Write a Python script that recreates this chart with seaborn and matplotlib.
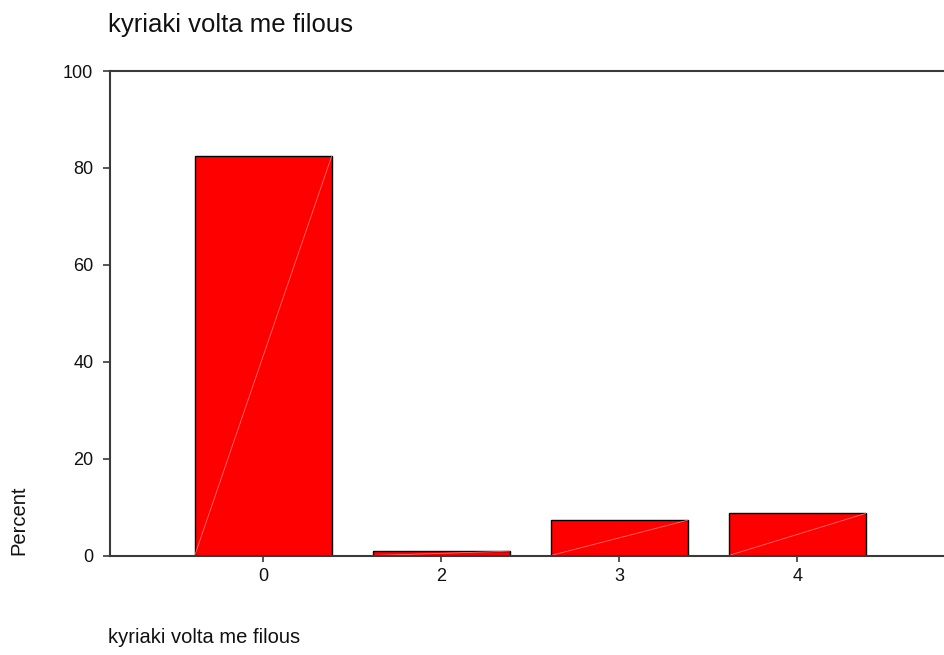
import matplotlib
matplotlib.use("Agg")
import matplotlib.pyplot as plt
import seaborn as sns
import pandas as pd

# Responses to "kyriaki volta me filous" (percent of respondents)
categories = ["0", "2", "3", "4"]
percent = [82.5, 0.9, 7.3, 8.7]
y_ticks = [0, 20, 40, 60, 80, 100]

title_text = "kyriaki volta me filous"
x_label_text = "kyriaki volta me filous"
y_label_text = "Percent"

sns.set_style("white")
plt.rcParams["font.family"] = ["Liberation Sans", "DejaVu Sans"]

W, H = 944, 655
fig = plt.figure(figsize=(W / 100, H / 100), dpi=100)
ax = fig.add_axes([110 / W, (H - 555.5) / H, 840.6 / W, 484.5 / H])

df = pd.DataFrame({"value": categories, "percent": percent})
sns.barplot(data=df, x="value", y="percent", order=categories, color="#ff0000",
            saturation=1, width=0.77, edgecolor="black", linewidth=1.0, ax=ax)

# faint diagonal highlight across each bar, corner to corner
for p in ax.patches:
    x0, y0 = p.get_x(), p.get_y()
    ax.plot([x0, x0 + p.get_width()], [y0, y0 + p.get_height()],
            color="#ff7a7a", lw=0.6, alpha=0.9, zorder=p.get_zorder() + 0.1)

ax.set_xlim(-0.861, 3.861)
ax.set_ylim(0, 100)
ax.set_yticks(y_ticks)
ax.set_xlabel("")
ax.set_ylabel("")

spine_col = "#3a3a3a"
for side in ["left", "top", "bottom", "right"]:
    ax.spines[side].set_color(spine_col)
    ax.spines[side].set_linewidth(1.5)

ax.tick_params(axis="y", direction="out", length=5, width=1.2, color=spine_col,
               pad=7, labelsize=13, labelcolor="#111111", left=True)
ax.tick_params(axis="x", direction="out", length=4, width=1.2, color=spine_col,
               pad=5, labelsize=13, labelcolor="#111111", bottom=True)

fig.text(108 / W, 1 - 32 / H, title_text, fontsize=18.5, ha="left",
         va="baseline", color="#111111")
fig.text(108 / W, 1 - 643 / H, x_label_text, fontsize=14.5, ha="left",
         va="baseline", color="#111111")
fig.text(19 / W, 1 - 555 / H, y_label_text, fontsize=14.5, rotation=90,
         ha="center", va="bottom", color="#111111")

fig.savefig("out.png", dpi=100, facecolor="white")
